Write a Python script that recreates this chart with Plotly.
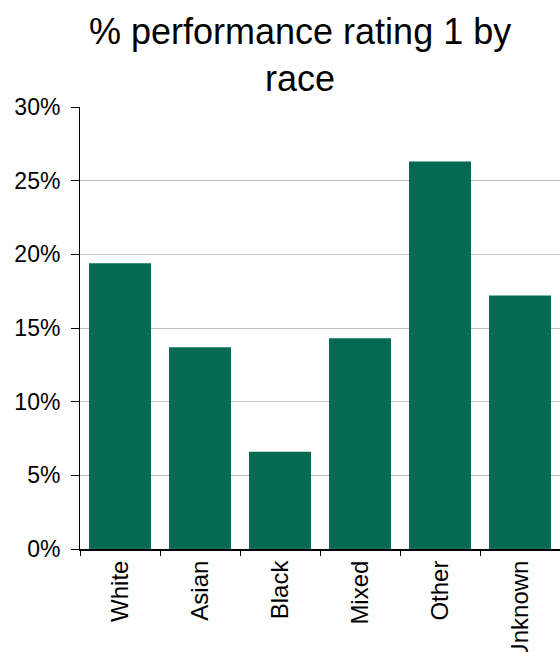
import plotly.graph_objects as go

# Share of staff with performance rating 1, by race (percent)
races = ["White", "Asian", "Black", "Mixed", "Other", "Unknown"]
rating1_pct = [19.4, 13.7, 6.6, 14.3, 26.3, 17.2]
y_ticks = [0, 5, 10, 15, 20, 25, 30]

FONT = "Liberation Sans, Arial, sans-serif"
BAR_GREEN = "#046A52"

W, H = 560, 652
M_L, M_R, M_T, M_B = 80, 0, 107, 103
PLOT_H = H - M_T - M_B

fig = go.Figure(
    go.Bar(
        x=races,
        y=rating1_pct,
        marker=dict(color=BAR_GREEN, line=dict(width=0)),
        width=0.775,
    )
)

fig.update_layout(
    width=W,
    height=H,
    margin=dict(l=M_L, r=M_R, t=M_T, b=M_B, autoexpand=False),
    paper_bgcolor="white",
    plot_bgcolor="white",
    showlegend=False,
    font=dict(family=FONT, color="black", size=23),
)

# Two-line chart heading, centred slightly left of the plot centre
fig.add_annotation(
    text="% performance rating 1 by<br>race",
    font=dict(family=FONT, size=36, color="black"),
    xref="paper",
    x=(300 - M_L) / (W - M_L - M_R),
    xanchor="center",
    yref="paper",
    y=(H - M_B - 9) / PLOT_H,
    yanchor="top",
    showarrow=False,
    align="center",
)

fig.update_yaxes(
    range=[0, 30],
    tickvals=y_ticks,
    ticktext=[f"{v}%" for v in y_ticks],
    showgrid=True,
    gridcolor="#BFBFBF",
    gridwidth=1,
    zeroline=False,
    showline=True,
    linecolor="black",
    linewidth=1,
    ticks="outside",
    ticklen=8,
    tickcolor="black",
    ticklabelstandoff=6,
    tickfont=dict(family=FONT, size=23, color="black"),
    automargin=False,
)

fig.update_xaxes(
    showgrid=False,
    showline=True,
    linecolor="black",
    linewidth=2,
    ticks="outside",
    ticklen=5,
    tickcolor="black",
    tickson="boundaries",
    tickangle=-90,
    tickfont=dict(family=FONT, size=24, color="black"),
    automargin=False,
)

fig.write_html("out.html")
